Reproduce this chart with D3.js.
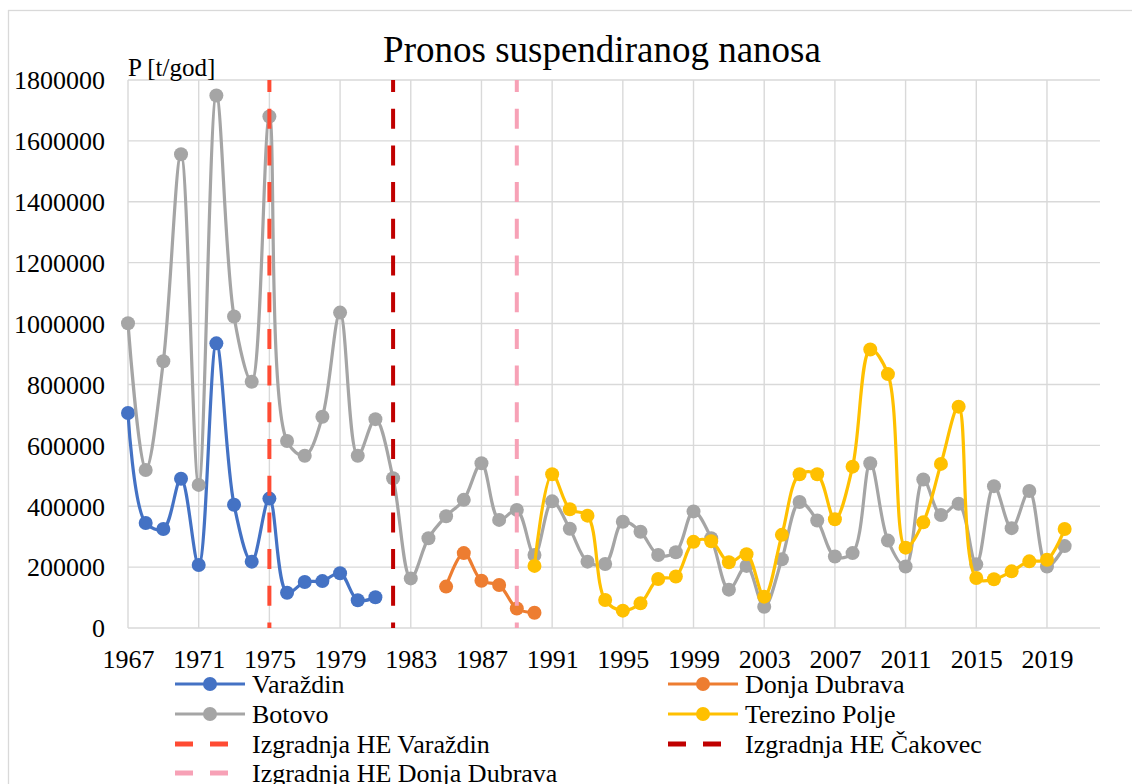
<!DOCTYPE html>
<html>
<head>
<meta charset="utf-8">
<script src="https://cdn.jsdelivr.net/npm/d3@7"></script>
<style>
  body { margin: 0; background: #fff; }
  text { font-family: "Liberation Serif", "Times New Roman", serif; fill: #000; }
</style>
</head>
<body>
<div id="chart"></div>
<script>
// values, t/god
var varazdinStart = 1967;
var varazdin = [706000, 345000, 325000, 490000, 207000, 935000, 405000, 218000, 425000, 116000,
  151000, 154000, 180000, 91000, 101000];

var donjaStart = 1985;
var donjaDubrava = [136000, 246000, 155000, 141000, 64000, 50000];

var botovoStart = 1967;
var botovo = [1001000, 519000, 876000, 1556000, 470000, 1749000, 1023000, 809000, 1680000, 614000,
  566000, 694000, 1036000, 566000, 686000, 492000, 163000, 295000, 367000, 421000,
  541000, 355000, 388000, 240000, 416000, 326000, 218000, 210000, 349000, 316000,
  240000, 249000, 383000, 295000, 126000, 204000, 70000, 226000, 414000, 353000,
  235000, 246000, 541000, 287000, 202000, 488000, 371000, 408000, 209000, 466000,
  328000, 450000, 202000, 269000];

var terezinoStart = 1990;
var terezino = [204000, 505000, 390000, 369000, 92000, 57000, 81000, 161000, 169000, 283000,
  285000, 216000, 242000, 103000, 306000, 505000, 505000, 357000, 530000, 915000,
  834000, 264000, 347000, 539000, 727000, 164000, 160000, 186000, 219000, 224000,
  325000];

var heYears = [1975, 1982, 1989];
var xTicks = [1967, 1971, 1975, 1979, 1983, 1987, 1991, 1995, 1999, 2003, 2007, 2011, 2015, 2019];
var yTicks = [0, 200000, 400000, 600000, 800000, 1000000, 1200000, 1400000, 1600000, 1800000];

var series = [
  {name: 'Varaždin', start: varazdinStart, values: varazdin, color: '#4472c4'},
  {name: 'Donja Dubrava', start: donjaStart, values: donjaDubrava, color: '#ed7d31'},
  {name: 'Botovo', start: botovoStart, values: botovo, color: '#a5a5a5'},
  {name: 'Terezino Polje', start: terezinoStart, values: terezino, color: '#ffc000'}
];
var heLines = [
  {name: 'Izgradnja HE Varaždin', year: heYears[0], color: '#ff4b33'},
  {name: 'Izgradnja HE Čakovec', year: heYears[1], color: '#c00000'},
  {name: 'Izgradnja HE Donja Dubrava', year: heYears[2], color: '#f7a1b6'}
];

var width = 1132, height = 784;
var plotLeft = 128, plotRight = 1100, plotTop = 80, plotBottom = 628;
var serif = '"Liberation Serif", "Times New Roman", serif';

var svg = d3.select('#chart').append('svg')
  .attr('width', width)
  .attr('height', height);

svg.append('rect')
  .attr('x', 8.5).attr('y', 10.5)
  .attr('width', 1140).attr('height', 800)
  .attr('fill', '#fff')
  .attr('stroke', '#d9d9d9')
  .attr('stroke-width', 1.3);

var x = d3.scaleLinear().domain([1967, 2022]).range([plotLeft, plotRight]);
var y = d3.scaleLinear().domain([0, 1800000]).range([plotBottom, plotTop]);

// gridlines
svg.append('g').selectAll('line')
  .data(yTicks)
  .enter().append('line')
  .attr('x1', plotLeft).attr('x2', plotRight)
  .attr('y1', function(d) { return y(d); })
  .attr('y2', function(d) { return y(d); })
  .attr('stroke', '#d9d9d9')
  .attr('stroke-width', 1.4);

svg.append('g').selectAll('line')
  .data(xTicks)
  .enter().append('line')
  .attr('x1', function(d) { return x(d); })
  .attr('x2', function(d) { return x(d); })
  .attr('y1', plotTop).attr('y2', plotBottom)
  .attr('stroke', '#d9d9d9')
  .attr('stroke-width', 1.4);

// axes labels
var yAxis = svg.append('g')
  .attr('transform', 'translate(' + (plotLeft - 23) + ',0)')
  .call(d3.axisLeft(y).tickValues(yTicks).tickSize(0).tickPadding(0).tickFormat(d3.format('d')))
  .attr('font-family', serif)
  .attr('font-size', 26);
yAxis.select('.domain').remove();
yAxis.selectAll('text')
  .attr('dy', '0.34em')
  .attr('fill', '#000');

var xAxis = svg.append('g')
  .attr('transform', 'translate(0,' + plotBottom + ')')
  .call(d3.axisBottom(x).tickValues(xTicks).tickSize(0).tickPadding(0).tickFormat(d3.format('d')))
  .attr('font-family', serif)
  .attr('font-size', 26);
xAxis.select('.domain').remove();
xAxis.selectAll('text')
  .attr('y', 40)
  .attr('dy', 0)
  .attr('fill', '#000');

svg.append('text')
  .attr('x', plotLeft)
  .attr('y', 76)
  .style('font-size', '25px')
  .text('P [t/god]');

svg.append('text')
  .attr('x', 602)
  .attr('y', 62)
  .attr('text-anchor', 'middle')
  .style('font-size', '37px')
  .text('Pronos suspendiranog nanosa');

// series
var line = d3.line()
  .x(function(d) { return x(d.year); })
  .y(function(d) { return y(d.value); })
  .curve(d3.curveCatmullRom.alpha(0.5));

series.forEach(function(s) {
  var pts = s.values.map(function(v, i) { return {year: s.start + i, value: v}; });
  var g = svg.append('g');
  g.append('path')
    .datum(pts)
    .attr('d', line)
    .attr('fill', 'none')
    .attr('stroke', s.color)
    .attr('stroke-width', 3.2)
    .attr('stroke-linejoin', 'round');
  g.selectAll('circle')
    .data(pts)
    .enter().append('circle')
    .attr('cx', function(d) { return x(d.year); })
    .attr('cy', function(d) { return y(d.value); })
    .attr('r', 7)
    .attr('fill', s.color);
});

// construction years
svg.append('g').selectAll('line')
  .data(heLines)
  .enter().append('line')
  .attr('x1', function(d) { return x(d.year); })
  .attr('x2', function(d) { return x(d.year); })
  .attr('y1', plotTop).attr('y2', plotBottom)
  .attr('stroke', function(d) { return d.color; })
  .attr('stroke-width', 4)
  .attr('stroke-dasharray', '20,16.7')
  .attr('stroke-dashoffset', 8);

// legend
var legendItems = [
  {s: series[0], col: 0, row: 0},
  {s: series[1], col: 1, row: 0},
  {s: series[2], col: 0, row: 1},
  {s: series[3], col: 1, row: 1},
  {h: heLines[0], col: 0, row: 2},
  {h: heLines[1], col: 1, row: 2},
  {h: heLines[2], col: 0, row: 3}
];
var colX = [175, 668];
var rowY = [684, 714, 744, 773];

var leg = svg.append('g').selectAll('g')
  .data(legendItems)
  .enter().append('g')
  .attr('transform', function(d) { return 'translate(' + colX[d.col] + ',' + rowY[d.row] + ')'; });

leg.each(function(d) {
  var g = d3.select(this);
  if (d.s) {
    g.append('line')
      .attr('x1', 0).attr('x2', 70)
      .attr('stroke', d.s.color).attr('stroke-width', 3.2);
    g.append('circle')
      .attr('cx', 35).attr('r', 7).attr('fill', d.s.color);
  } else {
    g.append('line')
      .attr('x1', 0).attr('x2', 54)
      .attr('stroke', d.h.color).attr('stroke-width', 5)
      .attr('stroke-dasharray', '18,17');
  }
  g.append('text')
    .attr('x', 77)
    .attr('y', 9)
    .style('font-size', '26px')
    .text(d.s ? d.s.name : d.h.name);
});
</script>
</body>
</html>
